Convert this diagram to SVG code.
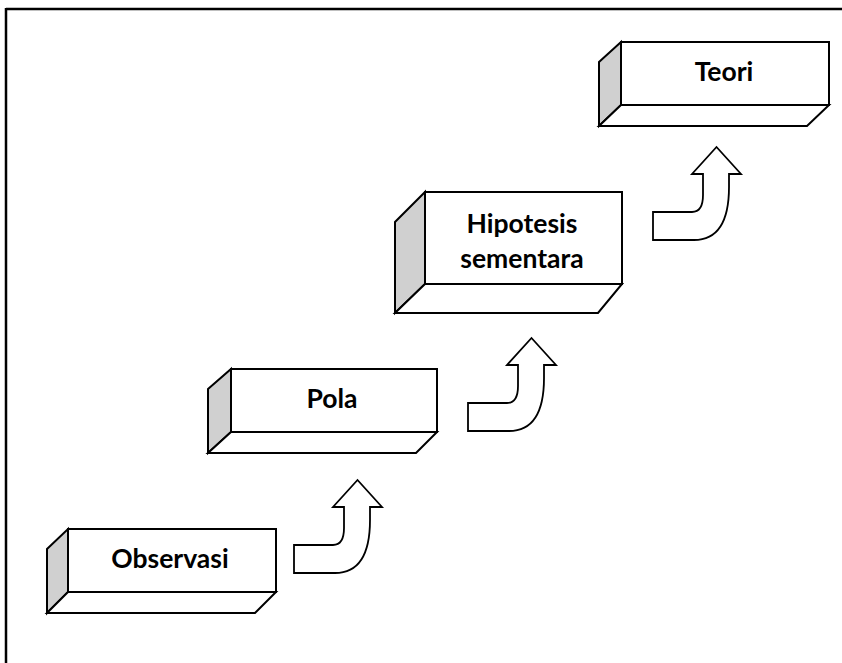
<svg xmlns="http://www.w3.org/2000/svg" width="842" height="663" viewBox="0 0 842 663">
<style>
.face{fill:#fff;stroke:#000;stroke-width:2;stroke-linejoin:miter}
.side{fill:#d0d0d0;stroke:#000;stroke-width:2}
.lbl{font-family:Lato,"Liberation Sans",sans-serif;font-weight:bold;font-size:26.5px;fill:#000;text-anchor:middle}
.arr{fill:#fff;stroke:#000;stroke-width:1.8;stroke-linejoin:miter}
</style>
<defs>
<path id="uparrow" d="M294,545 L333,545 C340,545 344,540 344,528 L344,507 L333,507 L357.5,480 L382,507 L370,507 L370,520 C370,553 360,573 335,573 L294,573 Z"/>
</defs>
<rect width="842" height="663" fill="#fff"/>
<g id="frame">
<line x1="6" y1="9" x2="842" y2="9" stroke="#000" stroke-width="2.5"/>
<line x1="6" y1="8" x2="6" y2="663" stroke="#000" stroke-width="2.5"/>
</g>
<g id="observasi">
<polygon class="side" points="47,549 68,529 68,592 47,613"/>
<polygon class="face" points="47,613 68,592 276,592 255,613"/>
<rect class="face" x="68" y="529" width="208" height="63"/>
<text class="lbl" x="170" y="568">Observasi</text>
</g>
<g id="pola">
<polygon class="side" points="208,389 231,369 231,432 208,453"/>
<polygon class="face" points="208,453 231,432 437,432 416,453"/>
<rect class="face" x="231" y="369" width="206" height="63"/>
<text class="lbl" x="332" y="408">Pola</text>
</g>
<g id="hipotesis">
<polygon class="side" points="395,222 425,192 425,284 395,313"/>
<polygon class="face" points="395,313 425,284 622,284 598,313"/>
<rect class="face" x="425" y="192" width="197" height="92"/>
<text class="lbl" x="522" y="233">Hipotesis</text>
<text class="lbl" x="522" y="268">sementara</text>
</g>
<g id="teori">
<polygon class="side" points="599,62 621,42 621,105 599,126"/>
<polygon class="face" points="599,126 621,105 829,105 807,126"/>
<rect class="face" x="621" y="42" width="208" height="63"/>
<text class="lbl" x="724" y="81">Teori</text>
</g>
<g id="connectors">
<use href="#uparrow" class="arr"/>
<use href="#uparrow" class="arr" transform="translate(174,-142)"/>
<use href="#uparrow" class="arr" transform="translate(359,-333)"/>
</g>
</svg>
